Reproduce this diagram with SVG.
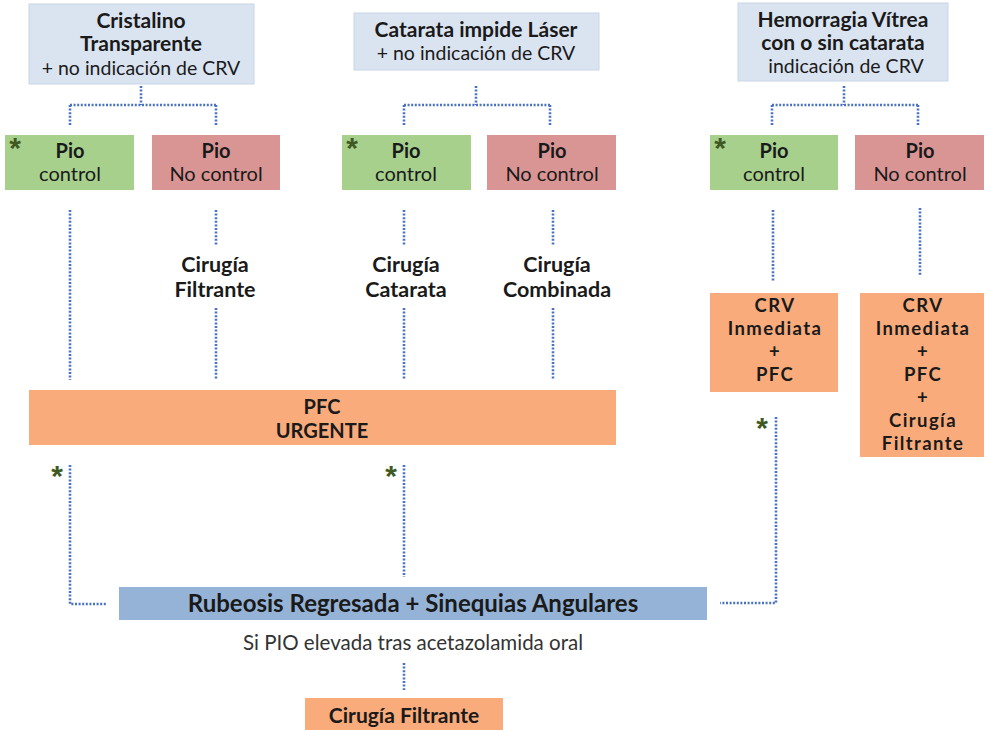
<svg xmlns="http://www.w3.org/2000/svg" width="990" height="730" viewBox="0 0 990 730">
<defs>
<style>
text{font-family:Lato,"Open Sans","Liberation Sans",sans-serif;fill:#1a1a1a;text-anchor:middle}
.b{font-weight:bold}
.t{font-size:21px}
.n{font-size:19.5px}
.p{font-size:20px}
.cl{font-size:21.5px;font-weight:bold}
.cr{font-size:18.5px;font-weight:bold;letter-spacing:1.4px}
.top{fill:#DAE4F1;stroke:#C9D6E8;stroke-width:1}
.g{fill:#A8D08D}
.r{fill:#D99594}
.o{fill:#F9AB7B}
.rb{fill:#95B3D7}
.c{fill:none;stroke:#4A72C0;stroke-width:2.6;stroke-dasharray:2 1.6}
.ast{fill:#3E5A22;font-family:"Liberation Sans",sans-serif;font-size:30px;font-weight:bold;text-anchor:middle}
</style>
</defs>
<rect width="990" height="730" fill="#fff"/>

<g id="connectors">
<path class="c" d="M141 86V105M70 105H216M70 105V125M216 105V125"/>
<path class="c" d="M476 86V105M404 105H550M404 105V125M550 105V125"/>
<path class="c" d="M844 86V105M772 105H918M772 105V125M918 105V125"/>
<path class="c" d="M70 210V380"/>
<path class="c" d="M216 210V245M216 308V380"/>
<path class="c" d="M404 210V245M404 308V380"/>
<path class="c" d="M553 210V245M553 308V380"/>
<path class="c" d="M773 210V282"/>
<path class="c" d="M920 208V276"/>
<path class="c" d="M776 417V603H720"/>
<path class="c" d="M70 465V604H107"/>
<path class="c" d="M404 465V577"/>
<path class="c" d="M404 663V690"/>
</g>

<g id="cristalino">
<rect class="top" x="29" y="4" width="225" height="80"/>
<text class="b t" x="141" y="28">Cristalino</text>
<text class="b t" x="141" y="51">Transparente</text>
<text class="n" x="141" y="75">+ no indicación de CRV</text>
</g>
<g id="catarata">
<rect class="top" x="354" y="13" width="245" height="57"/>
<text class="b t" x="476" y="37">Catarata  impide Láser</text>
<text class="n" x="476" y="60">+ no indicación de CRV</text>
</g>
<g id="hemorragia">
<rect class="top" x="738" y="3" width="210" height="78"/>
<text class="b t" x="843" y="27">Hemorragia Vítrea</text>
<text class="b t" x="843" y="50">con o sin catarata</text>
<text class="n" x="846" y="73">indicación de CRV</text>
</g>

<g id="pio-control-1">
<rect class="g" x="5" y="135" width="129" height="55"/>
<text class="ast" x="15" y="158">*</text>
<text class="b p" x="70" y="158">Pio</text>
<text class="p" x="70" y="181">control</text>
</g>
<g id="pio-nocontrol-1">
<rect class="r" x="152" y="135" width="128" height="55"/>
<text class="b p" x="216" y="158">Pio</text>
<text class="p" x="216" y="181">No control</text>
</g>
<g id="pio-control-2">
<rect class="g" x="342" y="135" width="129" height="55"/>
<text class="ast" x="352" y="158">*</text>
<text class="b p" x="406" y="158">Pio</text>
<text class="p" x="406" y="181">control</text>
</g>
<g id="pio-nocontrol-2">
<rect class="r" x="487" y="135" width="129" height="55"/>
<text class="b p" x="552" y="158">Pio</text>
<text class="p" x="552" y="181">No control</text>
</g>
<g id="pio-control-3">
<rect class="g" x="710" y="135" width="128" height="55"/>
<text class="ast" x="720" y="158">*</text>
<text class="b p" x="774" y="158">Pio</text>
<text class="p" x="774" y="181">control</text>
</g>
<g id="pio-nocontrol-3">
<rect class="r" x="855" y="135" width="129" height="55"/>
<text class="b p" x="920" y="158">Pio</text>
<text class="p" x="920" y="181">No control</text>
</g>

<g id="cirugia-filtrante-1">
<text class="cl" x="215" y="272">Cirugía</text>
<text class="cl" x="215" y="297">Filtrante</text>
</g>
<g id="cirugia-catarata">
<text class="cl" x="406" y="272">Cirugía</text>
<text class="cl" x="406" y="297">Catarata</text>
</g>
<g id="cirugia-combinada">
<text class="cl" x="557" y="272">Cirugía</text>
<text class="cl" x="557" y="297">Combinada</text>
</g>

<g id="pfc-urgente">
<rect class="o" x="29" y="390" width="587" height="55"/>
<text class="b p" x="322" y="414">PFC</text>
<text class="b p" x="322" y="438">URGENTE</text>
</g>

<g id="crv-1">
<rect class="o" x="710" y="293" width="128" height="99"/>
<text class="cr" x="775" y="312">CRV</text>
<text class="cr" x="775" y="335">Inmediata</text>
<text class="cr" x="775" y="358">+</text>
<text class="cr" x="775" y="381">PFC</text>
</g>
<g id="crv-2">
<rect class="o" x="860" y="293" width="124" height="164"/>
<text class="cr" x="923" y="312">CRV</text>
<text class="cr" x="923" y="335">Inmediata</text>
<text class="cr" x="923" y="358">+</text>
<text class="cr" x="923" y="381">PFC</text>
<text class="cr" x="923" y="404">+</text>
<text class="cr" x="923" y="427">Cirugía</text>
<text class="cr" x="923" y="450">Filtrante</text>
</g>

<g id="asterisks">
<text class="ast" x="57" y="486">*</text>
<text class="ast" x="391" y="486">*</text>
<text class="ast" x="762" y="438">*</text>
</g>

<g id="rubeosis">
<rect class="rb" x="119" y="587" width="588" height="33"/>
<text class="b" x="413" y="612" style="font-size:24px">Rubeosis Regresada + Sinequias Angulares</text>
</g>
<g id="nota">
<text x="413" y="650" style="font-size:20.5px;fill:#333">Si PIO elevada tras acetazolamida oral</text>
</g>
<g id="cirugia-filtrante-final">
<rect class="o" x="305" y="698" width="198" height="32"/>
<text class="b" x="404" y="723" style="font-size:21px">Cirugía Filtrante</text>
</g>
</svg>
